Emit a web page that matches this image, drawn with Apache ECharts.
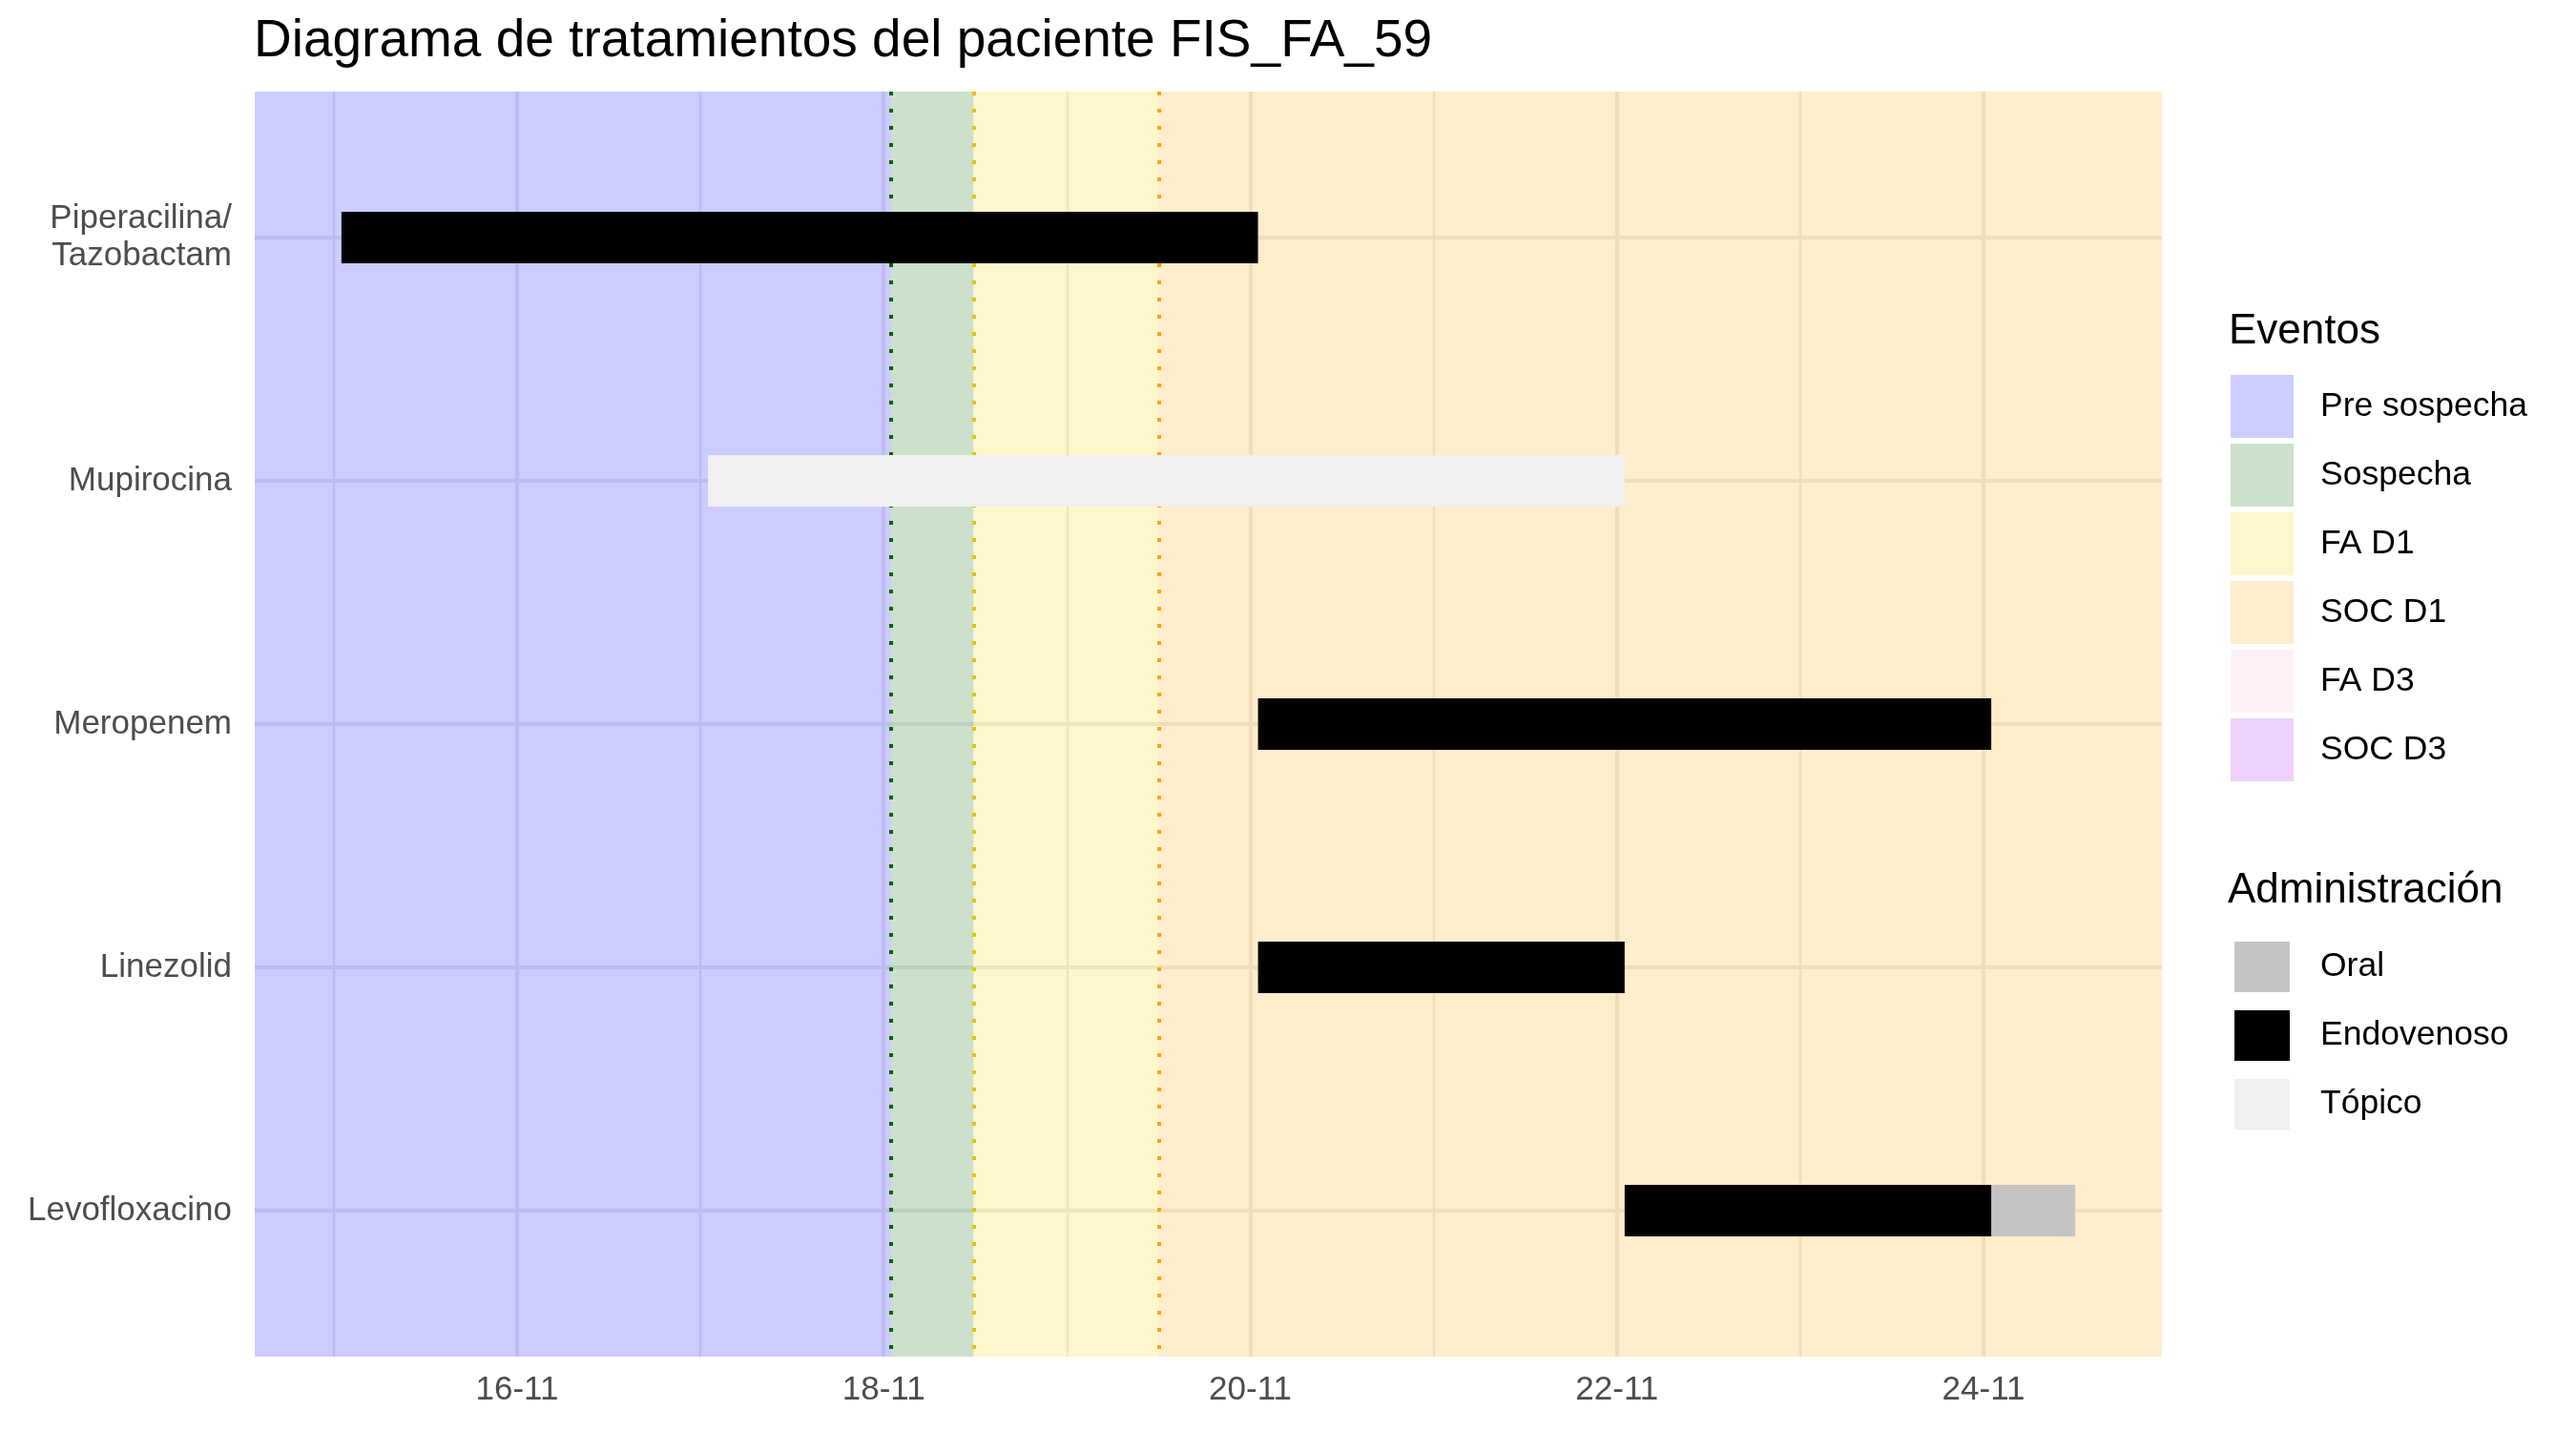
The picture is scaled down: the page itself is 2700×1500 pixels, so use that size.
<!DOCTYPE html>
<html><head><meta charset="utf-8">
<script src="https://cdn.jsdelivr.net/npm/echarts@6/dist/echarts.min.js"></script>
<style>html,body{margin:0;padding:0;background:#fff}#c{width:2700px;height:1500px}</style>
</head><body><div id="c"></div>
<script>
// ---------- DATA ----------
const drugs = ['Piperacilina/\nTazobactam', 'Mupirocina', 'Meropenem', 'Linezolid', 'Levofloxacino'];
const routes = ['Oral', 'Endovenoso', 'Tópico'];
// one entry per treatment segment (day of November, fractional)
const treatmentDrug  = ['Piperacilina/\nTazobactam', 'Mupirocina', 'Meropenem', 'Linezolid', 'Levofloxacino', 'Levofloxacino'];
const treatmentRoute = ['Endovenoso', 'Tópico', 'Endovenoso', 'Endovenoso', 'Endovenoso', 'Oral'];
const treatmentStart = [15.042, 17.042, 20.042, 20.042, 22.042, 24.042];
const treatmentEnd   = [20.042, 22.042, 24.042, 22.042, 24.042, 24.5];
// events legend and event times
const eventNames = ['Pre sospecha', 'Sospecha', 'FA D1', 'SOC D1', 'FA D3', 'SOC D3'];
const markedEvents = ['Sospecha', 'FA D1', 'SOC D1'];
const markedEventTimes = [18.042, 18.49, 19.5];
// x axis ticks
const xTicks = [16, 18, 20, 22, 24];
const xTickLabels = ['16-11', '18-11', '20-11', '22-11', '24-11'];
const xMinorTicks = [15, 17, 19, 21, 23];

// ---------- STYLE / LAYOUT ----------
const FONT = '"Liberation Sans", Arial, Helvetica, sans-serif';
const X_MIN = 14.569, X_MAX = 24.973;
const Y_MIN = -0.6, Y_MAX = 4.6;
const BAR_THICK = 0.212;
const eventColors = ['rgba(0,0,255,0.2)', 'rgba(0,100,0,0.2)', 'rgba(255,215,0,0.2)', 'rgba(255,165,0,0.2)', 'rgba(255,192,203,0.2)', 'rgba(160,32,240,0.2)'];
const eventLineColors = ['#006400', '#E6C400', '#FFA500'];
const routeColors = {'Oral': '#C4C4C4', 'Endovenoso': '#000000', 'Tópico': '#F0F0F0'};
const GRID_COLOR = '#EBEBEB';

// ---------- BUILD ----------
const bounds = [X_MIN].concat(markedEventTimes).concat([X_MAX]);
const regionByEvent = {};
regionByEvent['Pre sospecha'] = [bounds[0], bounds[1]];
markedEvents.forEach((e, i) => { regionByEvent[e] = [bounds[i + 1], bounds[i + 2]]; });

function bgRender(params, api) {
  const cs = params.coordSys;
  const x0 = api.coord([api.value(0), 0])[0];
  const x1 = api.coord([api.value(1), 0])[0];
  return {type: 'rect', shape: {x: x0, y: cs.y, width: x1 - x0, height: cs.height},
          style: {fill: api.visual('color')}};
}
function barRender(params, api) {
  const p0 = api.coord([api.value(0), api.value(2)]);
  const p1 = api.coord([api.value(1), api.value(2)]);
  const h = Math.abs(api.size([0, BAR_THICK])[1]);
  return {type: 'rect', shape: {x: p0[0], y: p0[1] - h / 2, width: p1[0] - p0[0], height: h},
          style: {fill: api.visual('color')}};
}

const series = [];
// grid lines (under the shaded event regions, like ggplot)
series.push({
  type: 'line', data: [], z: 1, silent: true,
  markLine: {
    z: 1, silent: true, symbol: 'none', label: {show: false}, animation: false,
    data: xTicks.map(v => ({xAxis: v, lineStyle: {color: GRID_COLOR, width: 4.2, type: 'solid'}}))
      .concat(xMinorTicks.map(v => ({xAxis: v, lineStyle: {color: GRID_COLOR, width: 2.4, type: 'solid'}})))
      .concat(drugs.map((d, i) => ({yAxis: i, lineStyle: {color: GRID_COLOR, width: 4.2, type: 'solid'}})))
  }
});
// event regions
eventNames.forEach((e, i) => {
  series.push({
    name: e, type: 'custom', z: 2, silent: true, clip: true,
    itemStyle: {color: eventColors[i]},
    renderItem: bgRender,
    encode: {x: [0, 1]},
    data: regionByEvent[e] ? [regionByEvent[e]] : []
  });
});
// dotted event lines
series.push({
  type: 'line', data: [], z: 3, silent: true,
  markLine: {
    z: 3, silent: true, symbol: 'none', label: {show: false}, animation: false,
    data: markedEventTimes.map((t, i) => ({xAxis: t, lineStyle: {color: eventLineColors[i], width: 4, type: [4, 14], cap: 'butt'}}))
  }
});
// treatment bars
routes.forEach(r => {
  const data = [];
  treatmentRoute.forEach((rr, i) => {
    if (rr === r) data.push([treatmentStart[i], treatmentEnd[i], drugs.indexOf(treatmentDrug[i])]);
  });
  series.push({
    name: r, type: 'custom', z: 6, clip: true,
    itemStyle: {color: routeColors[r]},
    renderItem: barRender,
    encode: {x: [0, 1], y: 2},
    data: data
  });
});

const chart = echarts.init(document.getElementById('c'), null, {renderer: 'canvas'});
chart.setOption({
  animation: false,
  backgroundColor: '#ffffff',
  textStyle: {fontFamily: FONT},
  title: [
    {text: 'Diagrama de tratamientos del paciente FIS_FA_59', left: 266, top: 16, padding: 0,
     textStyle: {fontSize: 55, fontWeight: 'normal', color: '#000', fontFamily: FONT}},
    {text: 'Eventos', left: 2336, top: 326, padding: 0,
     textStyle: {fontSize: 44, fontWeight: 'normal', color: '#000', fontFamily: FONT}},
    {text: 'Administración', left: 2335, top: 912, padding: 0,
     textStyle: {fontSize: 44, fontWeight: 'normal', color: '#000', fontFamily: FONT}}
  ],
  legend: [
    {data: eventNames, orient: 'vertical', left: 2338, top: 393, padding: 0, icon: 'rect',
     itemWidth: 66, itemHeight: 66, itemGap: 6, selectedMode: false,
     textStyle: {fontSize: 35.5, color: '#000', fontFamily: FONT, padding: [0, 0, 0, 23]}},
    {data: routes, orient: 'vertical', left: 2342, top: 987, padding: 0, icon: 'rect',
     itemWidth: 58, itemHeight: 53, itemGap: 19, selectedMode: false,
     textStyle: {fontSize: 35.5, color: '#000', fontFamily: FONT, padding: [0, 0, 0, 27]}}
  ],
  grid: {left: 267, top: 96, width: 1999, height: 1326, containLabel: false},
  xAxis: {
    type: 'value', min: X_MIN, max: X_MAX,
    axisLine: {show: false}, axisTick: {show: false}, splitLine: {show: false},
    axisLabel: {
      customValues: xTicks, margin: 18, fontSize: 35, color: '#4D4D4D', fontFamily: FONT,
      formatter: v => { const k = xTicks.indexOf(Math.round(v)); return k >= 0 ? xTickLabels[k] : ''; }
    }
  },
  yAxis: {
    type: 'value', min: Y_MIN, max: Y_MAX, inverse: true,
    axisLine: {show: false}, axisTick: {show: false}, splitLine: {show: false},
    axisLabel: {
      customValues: drugs.map((d, i) => i), margin: 24, fontSize: 35, lineHeight: 39,
      color: '#4D4D4D', fontFamily: FONT, align: 'right',
      formatter: v => drugs[Math.round(v)] || ''
    }
  },
  series: series
});
</script></body></html>
